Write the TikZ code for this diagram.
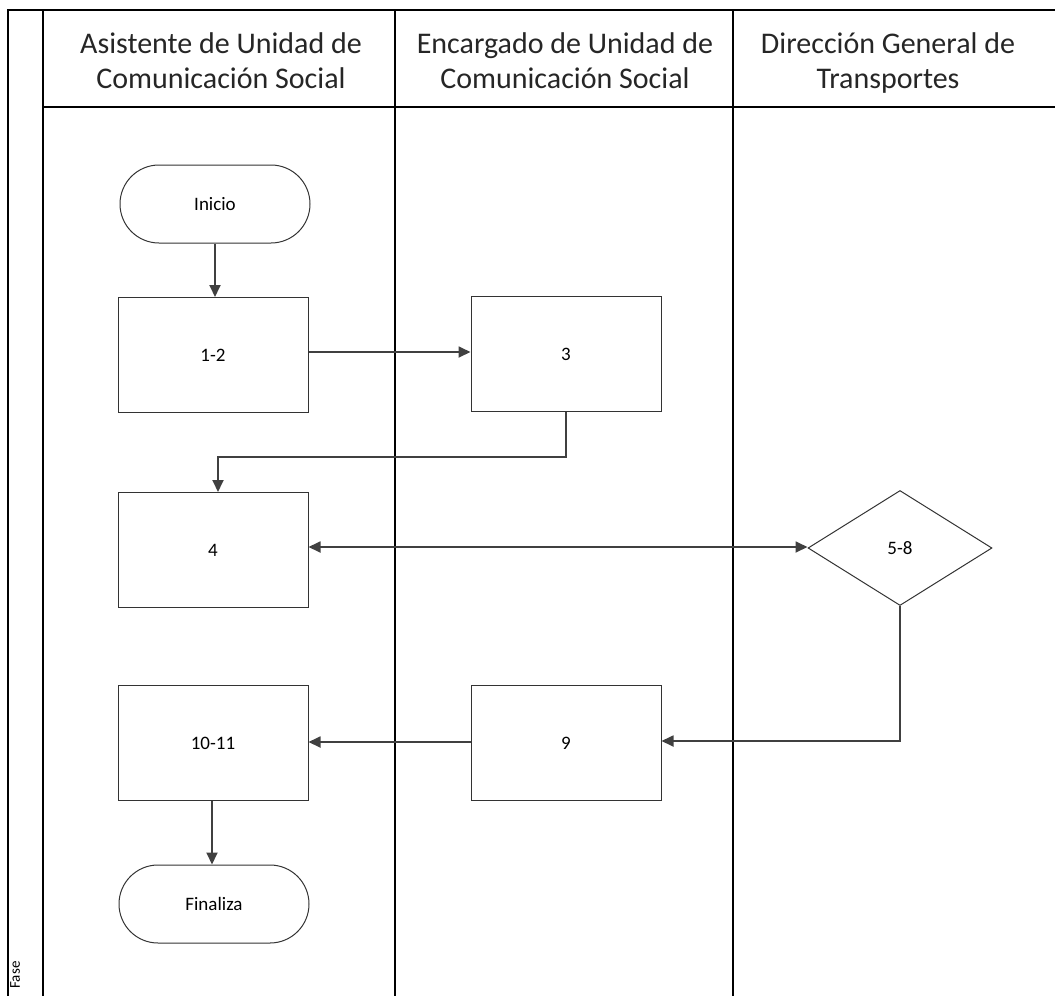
\documentclass[tikz,border=0pt]{standalone}
\usepackage{fontspec}
\setmainfont{Carlito}
\usetikzlibrary{arrows.meta,shapes.geometric,shapes.misc}
\begin{document}
\begin{tikzpicture}[x=1pt,y=-1pt,
  lane/.style={line width=1.3pt,black},
  procbox/.style={draw=black!80,line width=1pt,minimum width=190pt,minimum height=115pt,inner sep=0pt,font=\fontsize{19}{21}\selectfont},
  terminal/.style={draw=black!80,line width=1pt,rounded rectangle,minimum width=190pt,minimum height=78pt,inner sep=0pt,font=\fontsize{19}{21}\selectfont},
  decision/.style={draw=black!80,line width=1pt,diamond,aspect=1.6,minimum width=184pt,minimum height=115pt,inner sep=0pt,font=\fontsize{19}{21}\selectfont},
  flow/.style={line width=1.8pt,black!75,-{Triangle[length=12pt,width=11pt]}},
  flow2/.style={line width=1.8pt,black!75,{Triangle[length=12pt,width=11pt]}-{Triangle[length=12pt,width=11pt]}},
  header/.style={font=\fontsize{30}{35}\selectfont,align=center,text=black!85}
]
\useasboundingbox (0,0) rectangle (1055,996);
% frame and lanes
\draw[lane] (8,996) -- (8,10) -- (1055,10);
\draw[lane] (43,996) -- (43,10);
\draw[lane] (395,996) -- (395,10);
\draw[lane] (733,996) -- (733,10);
\draw[lane] (43,107) -- (1055,107);
% headers
\node[header] (h1) at (221,61) {Asistente de Unidad de\\Comunicación Social};
\node[header] (h2) at (565,61) {Encargado de Unidad de\\Comunicación Social};
\node[header] (h3) at (888,63) {Dirección General de\\Transportes};
\node[rotate=90,font=\fontsize{15}{17}\selectfont] (fase) at (15,975) {Fase};
% nodes
\node[terminal] (inicio) at (215,204) {Inicio};
\node[procbox] (n12) at (213,355) {1-2};
\node[procbox] (n3) at (566,354) {3};
\node[procbox] (n4) at (213,550) {4};
\node[decision] (n58) at (900,548) {5-8};
\node[procbox] (n9) at (566,743) {9};
\node[procbox] (n1011) at (213,743) {10-11};
\node[terminal] (fin) at (214,904) {Finaliza};
% connectors
\draw[flow] (inicio.south) -- (n12.north -| inicio.south);
\draw[flow] (n12.east |- 0,352) -- (n3.west |- 0,352);
\draw[flow] (n3.south) -- ++(0,45) -| (218,492);
\draw[flow2] (n4.east |- 0,547) -- (n58.west |- 0,547);
\draw[flow] (n58.south) |- (n9.east |- 0,741);
\draw[flow] (n9.west |- 0,742) -- (n1011.east |- 0,742);
\draw[flow] (n1011.south -| 212,0) -- (fin.north -| 212,0);
\end{tikzpicture}
\end{document}
